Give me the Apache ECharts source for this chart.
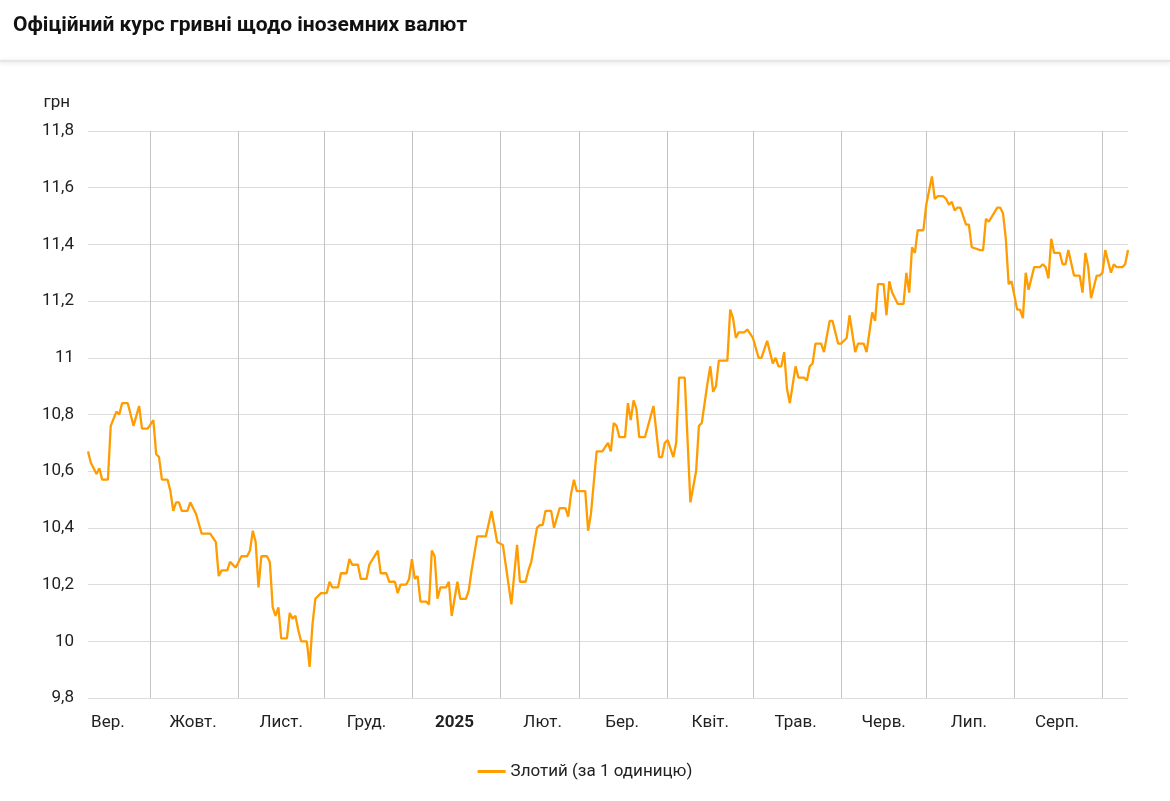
<!DOCTYPE html>
<html><head><meta charset="utf-8">
<script src="https://cdn.jsdelivr.net/npm/echarts@6/dist/echarts.min.js"></script>
<style>html,body{margin:0;padding:0;background:#fff}#c{width:1170px;height:801px}</style>
</head><body><div id="c"></div>
<script>
const startDate = '2024-09-09';
const dayCount = 367;
const monthNames = ['Січ.','Лют.','Бер.','Квіт.','Трав.','Черв.','Лип.','Серп.','Вер.','Жовт.','Лист.','Груд.'];
const yTicks = [9.8,10,10.2,10.4,10.6,10.8,11,11.2,11.4,11.6,11.8];
const seriesName = 'Злотий (за 1 одиницю)';
// day offsets from startDate
const dayIdx = [0,1,3,4,5,7,8,10,11,12,14,16,18,19,21,23,24,25,26,28,29,30,31,32,33,35,36,38,40,42,43,45,46,47,49,50,52,54,56,57,58,59,60,61,63,64,65,66,67,68,70,71,72,73,74,75,77,78,79,80,82,84,85,86,88,89,91,92,93,95,96,98,99,102,103,105,106,108,109,110,112,113,114,115,116,117,118,
119,120,121,122,123,124,126,127,128,129,130,131,133,134,135,137,140,142,144,146,147,149,151,152,154,155,156,158,159,160,161,163,164,166,168,169,170,171,172,175,176,177,179,181,183,184,185,186,187,189,190,191,192,193,194,196,199,201,202,203,204,206,207,208,210,212,214,215,216,218,219,220,221,222,224,225,226,227,228,229,231,232,234,236,
237,239,241,242,243,244,245,246,247,249,250,252,253,254,255,256,258,259,261,262,264,265,267,268,270,271,273,274,275,276,277,278,280,281,282,283,285,287,288,289,290,291,292,294,295,297,298,299,301,302,303,304,305,306,307,309,310,311,314,315,316,317,320,321,322,323,324,325,327,328,329,330,331,333,335,336,337,338,339,340,342,343,344,345,347,349,350,351,352,353,355,356,357,358,360,361,362,364,365,366];
const rates = [10.67,10.63,10.59,10.61,10.57,10.57,10.76,10.81,10.80,10.84,10.84,10.76,10.83,10.75,10.75,10.78,10.66,10.65,10.57,10.57,10.53,10.46,10.49,10.49,10.46,10.46,10.49,10.45,10.38,10.38,10.38,10.35,10.23,10.25,10.25,10.28,10.26,10.30,10.30,10.32,10.39,10.35,10.19,10.30,10.30,10.28,10.12,10.09,10.12,10.01,10.01,10.10,10.08,10.09,10.04,10.00,10.00,9.91,10.06,10.15,10.17,10.17,10.21,10.19,10.19,10.24,10.24,10.29,10.27,10.27,10.22,10.22,10.27,10.32,10.24,10.24,10.21,10.21,10.17,10.20,10.20,10.22,10.29,10.22,10.23,10.14,10.14,
10.14,10.13,10.32,10.30,10.15,10.19,10.19,10.21,10.09,10.15,10.21,10.15,10.15,10.18,10.25,10.37,10.37,10.46,10.35,10.34,10.27,10.13,10.34,10.21,10.21,10.25,10.28,10.40,10.41,10.41,10.46,10.46,10.40,10.47,10.47,10.44,10.52,10.57,10.53,10.53,10.39,10.45,10.67,10.67,10.70,10.67,10.77,10.76,10.72,10.72,10.84,10.78,10.85,10.82,10.72,10.72,10.83,10.65,10.65,10.70,10.71,10.65,10.70,10.93,10.93,10.49,10.60,10.76,10.77,10.91,10.97,10.88,10.90,10.99,10.99,10.99,11.17,11.14,11.07,11.09,11.09,11.10,11.07,11.00,
11.00,11.06,10.98,11.00,10.97,10.97,11.02,10.89,10.84,10.97,10.93,10.93,10.92,10.97,10.98,11.05,11.05,11.02,11.13,11.13,11.05,11.05,11.07,11.15,11.02,11.05,11.05,11.02,11.09,11.16,11.13,11.26,11.26,11.15,11.27,11.23,11.19,11.19,11.30,11.23,11.39,11.37,11.45,11.45,11.54,11.64,11.56,11.57,11.57,11.56,11.54,11.55,11.52,11.53,11.53,11.47,11.47,11.39,11.38,11.38,11.49,11.48,11.53,11.53,11.51,11.42,11.26,11.27,11.17,11.17,11.14,11.30,11.24,11.32,11.32,11.33,11.32,11.28,11.42,11.37,11.37,11.33,11.33,11.38,11.29,11.29,11.23,11.37,11.32,11.21,11.29,11.29,11.30,11.38,11.30,11.33,11.32,11.32,11.33,11.38];

const categories = [];
const d0 = new Date(startDate + 'T00:00:00Z');
for (let i = 0; i < dayCount; i++) {
  const d = new Date(d0.getTime() + i * 86400000);
  categories.push(d.toISOString().slice(0, 10));
}
const data = dayIdx.map((k, i) => [categories[k], rates[i]]);

const chart = echarts.init(document.getElementById('c'));
chart.setOption({
  animation: false,
  textStyle: { fontFamily: 'Roboto' },
  title: { text: 'Офіційний курс гривні щодо іноземних валют', left: 8, top: 10,
    textStyle: { fontFamily: 'Roboto', fontSize: 21, fontWeight: 'bold', color: '#111' } },
  graphic: [{ type: 'rect', shape: { x: 0, y: 60, width: 1170, height: 2 },
    style: { fill: '#e6e6e6', shadowBlur: 4, shadowColor: 'rgba(0,0,0,0.15)', shadowOffsetY: 1 } }],
  grid: { left: 88, right: 42, top: 131, bottom: 103 },
  legend: { bottom: 16, left: 'center', icon: 'rect', itemWidth: 28, itemHeight: 3,
    textStyle: { fontSize: 17, color: '#222', fontFamily: 'Roboto' } },
  xAxis: {
    type: 'category', data: categories, boundaryGap: false,
    axisLine: { show: false }, axisTick: { show: false },
    splitLine: { show: true, interval: (i, v) => v.slice(8) === '01', lineStyle: { color: '#c4c4c4' } },
    axisLabel: {
      interval: (i, v) => v.slice(8) === '16', fontSize: 17, color: '#222', margin: 16,
      formatter: v => { const m = +v.slice(5, 7); return m === 1 ? '{b|' + v.slice(0, 4) + '}' : monthNames[m - 1]; },
      rich: { b: { fontWeight: 'bold', fontSize: 17, color: '#222' } }
    }
  },
  yAxis: {
    type: 'value', min: yTicks[0], max: yTicks[yTicks.length - 1], interval: 0.2,
    name: 'грн', nameLocation: 'end', nameGap: 20,
    nameTextStyle: { fontSize: 17, color: '#222', align: 'right', padding: [0, 18, 0, 0] },
    axisLine: { show: false }, axisTick: { show: false },
    splitLine: { lineStyle: { color: '#dcdcdc' } },
    axisLabel: { fontSize: 17, color: '#222', margin: 14,
      formatter: v => String(Math.round(v * 10) / 10).replace('.', ',') }
  },
  series: [{ name: seriesName, type: 'line', data: data, showSymbol: false,
    connectNulls: true, lineStyle: { color: '#ff9c00', width: 2.3 }, itemStyle: { color: '#ff9c00' } }]
});
</script></body></html>
